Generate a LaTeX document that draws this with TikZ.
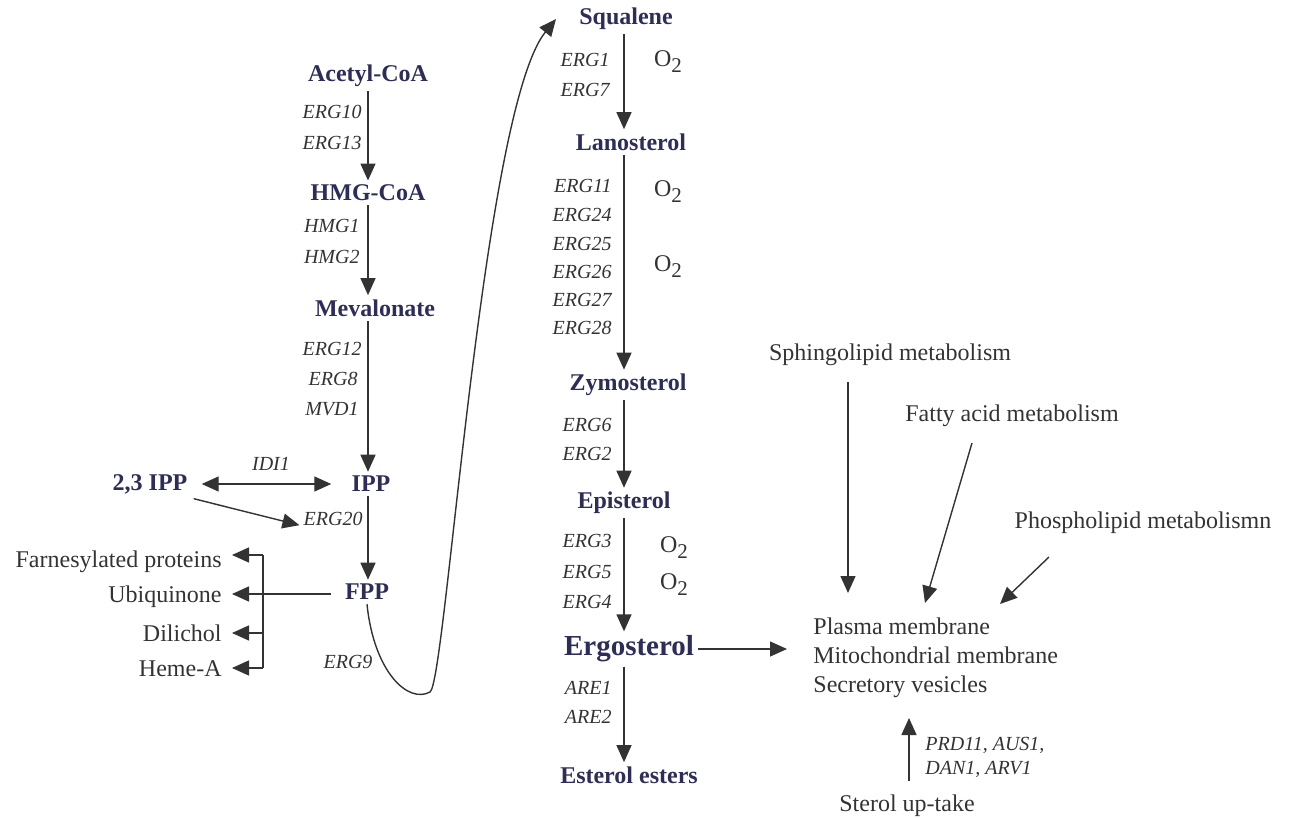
\documentclass[tikz,border=0pt]{standalone}
\usepackage{fontspec}
\setmainfont{Liberation Serif}
\usetikzlibrary{arrows.meta}
\definecolor{metabblue}{HTML}{2D2D5A}
\definecolor{ink}{HTML}{333333}
\newcommand{\oxygen}{O\raisebox{-0.55ex}{\fontsize{10.5}{10.5}\selectfont 2}}
\begin{document}
\begin{tikzpicture}[x=0.5pt,y=-0.5pt,>={Triangle[length=8.5pt,width=7.5pt]},
  metab/.style={font=\bfseries\fontsize{12}{14}\selectfont, text=metabblue, inner sep=2pt},
  gene/.style={font=\itshape\fontsize{10}{12}\selectfont, text=ink, anchor=east, inner sep=0pt},
  outlabel/.style={font=\fontsize{12}{14.5}\selectfont, text=ink, inner sep=2pt},
  oxy/.style={font=\fontsize{12}{14}\selectfont, text=ink, inner sep=0pt},
  flux/.style={->, draw=ink, line width=0.7pt}]
\useasboundingbox (0,0) rectangle (1292,818);
%%%MEVALONATE BRANCH
\node[metab] (acetyl) at (368,76) {Acetyl-CoA};
\node[metab] (hmgcoa) at (368,193) {HMG-CoA};
\node[metab] (mevalonate) at (375,308) {Mevalonate};
\node[metab] (ipp) at (371,484) {IPP};
\node[metab] (ipp23) at (150,484) {2,3 IPP};
\node[metab] (fpp) at (367,592) {FPP};
\node[gene] at (362,112) {ERG10};
\node[gene] at (362,143) {ERG13};
\node[gene] at (360,226) {HMG1};
\node[gene] at (360,257) {HMG2};
\node[gene] at (362,349) {ERG12};
\node[gene] at (358,379) {ERG8};
\node[gene] at (359,409) {MVD1};
\node[gene, anchor=center] at (271,464) {IDI1};
\node[gene] (erg20) at (363,519) {ERG20};
\node[gene, anchor=center] at (348,662) {ERG9};
\draw[flux] (acetyl.south) -- (hmgcoa.north);
\draw[flux] (hmgcoa.south) -- (hmgcoa.south |- mevalonate.north);
\draw[flux] (mevalonate.south -| hmgcoa) -- (hmgcoa |- ipp.north);
\draw[flux] (ipp.south -| hmgcoa) -- (hmgcoa |- fpp.north);
\draw[flux, <->, shorten <=5pt, shorten >=8pt] (ipp23.east) -- (ipp.west);
\draw[flux, shorten <=1pt, shorten >=2pt] (ipp23.south east) -- (erg20.south west);
%%%FPP PRODUCTS
\node[outlabel, anchor=east] (farnesyl) at (226,562) {Farnesylated proteins};
\node[outlabel, anchor=east] (ubiquinone) at (226,597) {Ubiquinone};
\node[outlabel, anchor=east] (dilichol) at (226,633) {Dilichol};
\node[outlabel, anchor=east] (heme) at (226,669) {Heme-A};
\coordinate (brtop) at (263,555);
\coordinate (brbot) at (263,668);
\draw[ink, line width=0.7pt] (brtop) -- (brbot);
\draw[flux, shorten >=3pt] (brtop) -- (brtop -| farnesyl.east);
\draw[flux, shorten <=5pt, shorten >=3pt] (fpp.west |- 0,594) -- (ubiquinone.east |- 0,594);
\draw[flux, shorten >=3pt] (brtop |- dilichol) -- (dilichol.east);
\draw[flux, shorten >=3pt] (brbot) -- (brbot -| heme.east);
%%%ERGOSTEROL BRANCH
\node[metab] (squalene) at (626,19) {Squalene};
\node[metab] (lanosterol) at (631,142) {Lanosterol};
\node[metab] (zymosterol) at (628,385) {Zymosterol};
\node[metab] (episterol) at (624,503) {Episterol};
\node[metab, font=\bfseries\fontsize{14.5}{16}\selectfont] (ergosterol) at (629,649) {Ergosterol};
\node[metab] (esters) at (629,775) {Esterol esters};
\coordinate (axis) at (624,0);
\draw[flux] (fpp.south) .. controls (374,672) and (408,704) .. (430,692)
  .. controls (446,683) and (482,110) .. (556,19);
\draw[flux] (squalene.south -| axis) -- (axis |- lanosterol.north);
\draw[flux] (lanosterol.south -| axis) -- (axis |- zymosterol.north);
\draw[flux] (zymosterol.south -| axis) -- (axis |- episterol.north);
\draw[flux] (episterol.south -| axis) -- (axis |- ergosterol.north);
\draw[flux] (ergosterol.south -| axis) -- (axis |- esters.north);
\node[gene] at (610,60) {ERG1};
\node[gene] at (610,90) {ERG7};
\node[gene] at (612,186) {ERG11};
\node[gene] at (612,215) {ERG24};
\node[gene] at (612,244) {ERG25};
\node[gene] at (612,272) {ERG26};
\node[gene] at (612,300) {ERG27};
\node[gene] at (612,328) {ERG28};
\node[gene] at (612,425) {ERG6};
\node[gene] at (612,454) {ERG2};
\node[gene] at (612,541) {ERG3};
\node[gene] at (612,572) {ERG5};
\node[gene] at (612,602) {ERG4};
\node[gene] at (612,688) {ARE1};
\node[gene] at (612,717) {ARE2};
\node[oxy] at (668,62) {\oxygen};
\node[oxy] at (668,192) {\oxygen};
\node[oxy] at (668,267) {\oxygen};
\node[oxy] at (674,548) {\oxygen};
\node[oxy] at (674,585) {\oxygen};
%%%MEMBRANES
\node[outlabel, anchor=west, align=left] (membrane) at (809,658)
  {Plasma membrane\\Mitochondrial membrane\\Secretory vesicles};
\node[outlabel] (sphingo) at (890,355) {Sphingolipid metabolism};
\node[outlabel] (fatty) at (1012,416) {Fatty acid metabolism};
\node[outlabel] (phospho) at (1143,523) {Phospholipid metabolismn};
\node[outlabel] (uptake) at (907,806) {Sterol up-take};
\node[gene, anchor=west, align=left, font=\itshape\fontsize{10}{12}\selectfont] (transport) at (925,757)
  {PRD11, AUS1,\\DAN1, ARV1};
\coordinate (fastart) at (972,443);
\coordinate (phstart) at (1049,557);
\coordinate (sphend) at (848,593);
\coordinate (faend) at (925,603);
\coordinate (phend) at (1000,604);
\coordinate (upend) at (909,718);
\draw[flux, shorten >=11pt] (ergosterol.east) -- (ergosterol.east -| membrane.west);
\draw[flux, shorten <=6pt] (sphingo.south -| sphend) -- (sphend);
\draw[flux] (fastart) -- (faend);
\draw[flux] (phstart) -- (phend);
\draw[flux, shorten <=5pt] (uptake.north -| upend) -- (upend);
\end{tikzpicture}
\end{document}
